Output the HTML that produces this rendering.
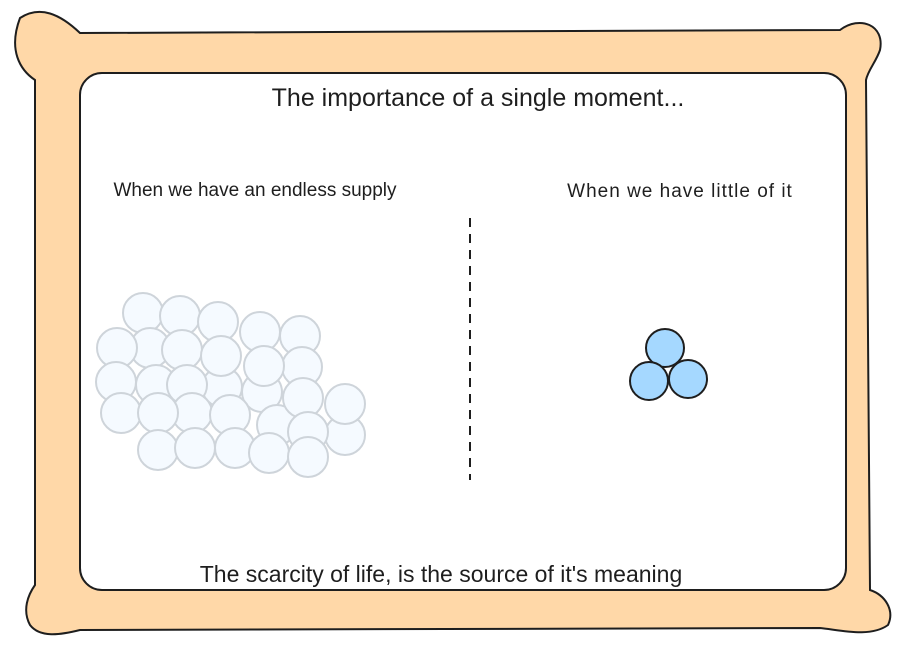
<!DOCTYPE html>
<html><head><style>
body{margin:0;background:#fff;width:904px;height:642px;overflow:hidden}
text{font-family:"Comic Sans MS","Liberation Sans",sans-serif;fill:#1e1e1e}
</style></head><body>
<svg width="904" height="642" viewBox="0 0 904 642" xmlns="http://www.w3.org/2000/svg">
<path d="M20,18 C40,5 60,14 80,33 L840,30 C860,15 885,25 880,50 C876,62 868,70 866,80 L870,590 C885,595 895,610 888,625 C870,638 840,630 820,628 L80,630 C60,635 40,638 30,625 C22,610 28,595 35,585 L35,80 C20,70 8,50 20,18 Z" fill="#ffd8a8" stroke="#1e1e1e" stroke-width="2"/>
<rect x="80" y="73" width="766" height="517" rx="22" fill="#fff" stroke="#1e1e1e" stroke-width="2"/>
<text x="478" y="106" font-size="25" text-anchor="middle">The importance of a single moment...</text>
<text x="255" y="196" font-size="19" text-anchor="middle">When we have an endless supply</text>
<text x="680" y="197" font-size="19" letter-spacing="1" text-anchor="middle">When we have little of it</text>
<text x="441" y="582" font-size="23" text-anchor="middle">The scarcity of life, is the source of it's meaning</text>
<line x1="470" y1="218" x2="470" y2="480" stroke="#1e1e1e" stroke-width="2" stroke-dasharray="9,7"/>
<g fill="#f5faff" stroke="#ced4da" stroke-width="2">
<circle cx="143" cy="313" r="20"/><circle cx="180" cy="316" r="20"/><circle cx="218" cy="322" r="20"/><circle cx="260" cy="332" r="20"/><circle cx="300" cy="336" r="20"/>
<circle cx="150" cy="348" r="20"/><circle cx="182" cy="350" r="20"/><circle cx="302" cy="367" r="20"/><circle cx="117" cy="348" r="20"/>
<circle cx="116" cy="382" r="20"/><circle cx="222" cy="387" r="20"/><circle cx="262" cy="392" r="20"/><circle cx="221" cy="356" r="20"/><circle cx="264" cy="366" r="20"/>
<circle cx="156" cy="385" r="20"/><circle cx="187" cy="385" r="20"/>
<circle cx="192" cy="413" r="20"/><circle cx="230" cy="415" r="20"/><circle cx="277" cy="425" r="20"/><circle cx="345" cy="435" r="20"/><circle cx="303" cy="398" r="20"/><circle cx="345" cy="404" r="20"/>
<circle cx="121" cy="413" r="20"/><circle cx="158" cy="413" r="20"/><circle cx="308" cy="432" r="20"/>
<circle cx="158" cy="450" r="20"/><circle cx="195" cy="448" r="20"/><circle cx="235" cy="448" r="20"/><circle cx="269" cy="453" r="20"/><circle cx="308" cy="457" r="20"/>
</g>
<g fill="#a5d8ff" stroke="#1e1e1e" stroke-width="2">
<circle cx="665" cy="348" r="19"/><circle cx="649" cy="381" r="19"/><circle cx="688" cy="379" r="19"/>
</g>
</svg>
</body></html>
